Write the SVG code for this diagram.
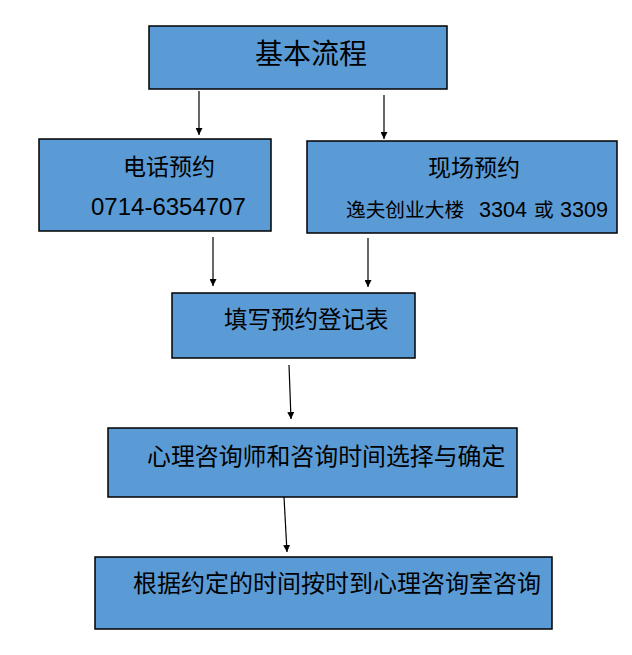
<svg xmlns="http://www.w3.org/2000/svg" width="632" height="655" viewBox="0 0 632 655">
<style>
.box{fill:#5B9BD5;stroke:#000;stroke-width:1.5}
.cj{font-family:"Noto Sans CJK SC","Liberation Sans",sans-serif;fill:#000}
.num{font-family:"Liberation Sans","Noto Sans CJK SC",sans-serif;fill:#000}
.conn line{stroke:#000;stroke-width:1.2}
</style>
<defs>
<marker id="arr" viewBox="0 0 10 10" refX="10" refY="5" markerWidth="7" markerHeight="7" markerUnits="userSpaceOnUse" orient="auto">
<path d="M0,0 L10,5 L0,10 z" fill="#000"/>
</marker>
</defs>
<rect width="632" height="655" fill="#fff"/>
<g id="n-basic">
<rect class="box" x="149" y="26" width="298" height="63"/>
<text class="cj" x="255" y="64" font-size="28">基本流程</text>
</g>
<g id="n-phone">
<rect class="box" x="39" y="139" width="232" height="92"/>
<text class="cj" x="123" y="175" font-size="23">电话预约</text>
<text class="num" x="91" y="215" font-size="24">0714-6354707</text>
</g>
<g id="n-onsite">
<rect class="box" x="307" y="141" width="310" height="92"/>
<text class="cj" x="428" y="176" font-size="23">现场预约</text>
<text class="cj" x="346" y="217" font-size="19.7">逸夫创业大楼<tspan class="num" x="479" font-size="21.6">3304</tspan><tspan x="534">或</tspan><tspan class="num" x="560" font-size="21.6">3309</tspan></text>
</g>
<g id="n-form">
<rect class="box" x="172" y="293" width="243" height="65"/>
<text class="cj" x="224" y="327.5" font-size="23.5">填写预约登记表</text>
</g>
<g id="n-select">
<rect class="box" x="108" y="428" width="409" height="69"/>
<text class="cj" x="147" y="465" font-size="23.9">心理咨询师和咨询时间选择与确定</text>
</g>
<g id="n-visit">
<rect class="box" x="95" y="557" width="457" height="72"/>
<text class="cj" x="133" y="591.5" font-size="24">根据约定的时间按时到心理咨询室咨询</text>
</g>
<g id="connectors" class="conn">
<line x1="199" y1="91" x2="199" y2="135" marker-end="url(#arr)"/>
<line x1="384" y1="95" x2="384" y2="139" marker-end="url(#arr)"/>
<line x1="213" y1="237" x2="213" y2="286" marker-end="url(#arr)"/>
<line x1="368" y1="238" x2="368" y2="287" marker-end="url(#arr)"/>
<line x1="289" y1="365" x2="291" y2="419" marker-end="url(#arr)"/>
<line x1="284" y1="497" x2="287" y2="552" marker-end="url(#arr)"/>
</g>
</svg>
